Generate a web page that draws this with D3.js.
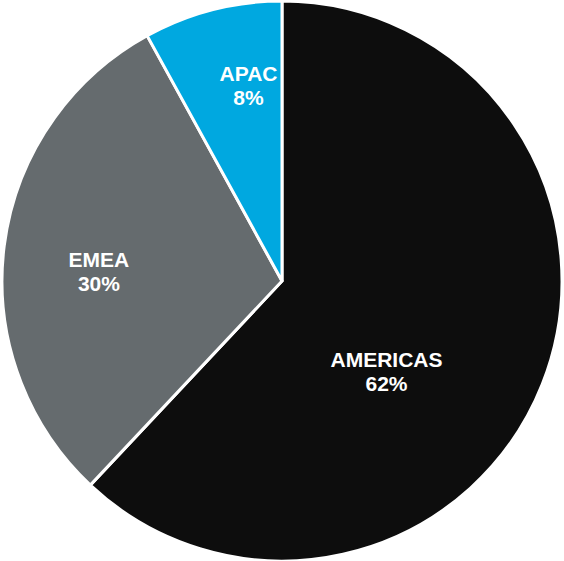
<!DOCTYPE html>
<html>
<head>
<meta charset="utf-8">
<script src="https://cdn.jsdelivr.net/npm/d3@7"></script>
<style>
  html, body { margin: 0; padding: 0; background: #fff; }
  svg { display: block; }
  .label { font-family: "Liberation Sans", Arial, sans-serif; font-weight: bold; fill: #fff; }
</style>
</head>
<body>
<div id="chart"></div>
<script>
const regions = ["AMERICAS", "EMEA", "APAC"];
const shares = [62, 30, 8];
const colors = ["#0d0d0d", "#656b6e", "#00a8e0"];

const WIDTH = 564, HEIGHT = 561;
const CX = 282, CY = 281, RADIUS = 280;
// label nudges relative to the arc centroid (excel-style best fit)
const LABEL_NUDGE = [[-67.5, 22], [0.5, 13], [12.5, -17]];

const data = regions.map((r, i) => ({ region: r, value: shares[i] }));

const pie = d3.pie().value(d => d.value).sort(null);
const arc = d3.arc().innerRadius(0).outerRadius(RADIUS);
const labelArc = d3.arc().innerRadius(185).outerRadius(185);
const color = d3.scaleOrdinal().domain(regions).range(colors);

const svg = d3.select("#chart")
  .append("svg")
  .attr("width", WIDTH)
  .attr("height", HEIGHT)
  .attr("viewBox", [0, 0, WIDTH, HEIGHT]);

const g = svg.append("g").attr("transform", `translate(${CX},${CY})`);

const arcs = pie(data);

g.selectAll("path")
  .data(arcs)
  .join("path")
  .attr("d", arc)
  .attr("fill", d => color(d.data.region))
  .attr("stroke", "#fff")
  .attr("stroke-width", 3)
  .attr("stroke-linejoin", "miter");

const labels = g.selectAll("text")
  .data(arcs)
  .join("text")
  .attr("class", "label")
  .attr("text-anchor", "middle")
  .attr("font-size", 21)
  .attr("transform", (d, i) => {
    const [x, y] = labelArc.centroid(d);
    return `translate(${x + LABEL_NUDGE[i][0]},${y + LABEL_NUDGE[i][1]})`;
  });

labels.append("tspan")
  .attr("x", 0)
  .attr("y", -4)
  .text(d => d.data.region);
labels.append("tspan")
  .attr("x", 0)
  .attr("y", 20)
  .text(d => `${d.data.value}%`);
</script>
</body>
</html>
